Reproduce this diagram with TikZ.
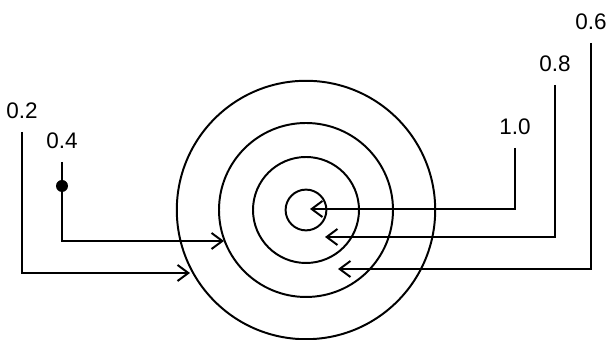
\documentclass[tikz,border=0pt]{standalone}
\usepackage{fontspec}
\setmainfont{Liberation Sans}
\usepackage{tikz}
\usetikzlibrary{calc,positioning}
\usetikzlibrary{arrows.meta}

\begin{document}
\begin{tikzpicture}[line width=1.4pt,
		lvl/.style={anchor=south,inner sep=0.5mm,font=\fontsize{16pt}{18pt}\selectfont},
		lead/.style={-{Straight Barb[length=2.7mm,width=4mm]}},
		knot/.style={circle,fill,inner sep=0pt,minimum size=3mm}]
				 \useasboundingbox (0,0) rectangle (152mm,85mm);
				 %\draw[color=gray,step=1mm, help lines,opacity=0.3] (0pt,0pt) grid (152mm,85mm); %help grids
				 % rings
				 \coordinate (c) at (76.5mm,32.5mm);
				 \draw (c) circle (5.1mm);
				 \draw (c) circle (13.25mm);
				 \draw (c) circle (21.75mm);
				 \draw (c) circle (32.3mm);
				 % left side
				 \node[lvl] (v02) at (5.5mm,54.5mm) {0.2};
				 \node[lvl] (v04) at (15.5mm,47mm) {0.4};
				 \node[knot] (k04) at (15.5mm,38.5mm) {};
				 \coordinate (t02) at (47.5mm,16.75mm);
				 \coordinate (t04) at (56mm,24.75mm);
				 \draw[lead] ([yshift=-2.5mm]v02.south) |- (t02);
				 \draw[lead] ([yshift=-2.5mm]v04.south) -- (k04.center) |- (t04);
				 % right side
				 \node[lvl] (v10) at (128.75mm,50.5mm) {1.0};
				 \node[lvl] (v08) at (138.75mm,66.25mm) {0.8};
				 \node[lvl] (v06) at (147.75mm,76.75mm) {0.6};
				 \coordinate (t10) at (77.5mm,32.75mm);
				 \coordinate (t08) at (81.25mm,25.75mm);
				 \coordinate (t06) at (84.5mm,17.75mm);
				 \draw[lead] ([yshift=-2.5mm]v10.south) |- (t10);
				 \draw[lead] ([yshift=-2.5mm]v08.south) |- (t08);
				 \draw[lead] ([yshift=-2.5mm]v06.south) |- (t06);
\end{tikzpicture}
\end{document}
